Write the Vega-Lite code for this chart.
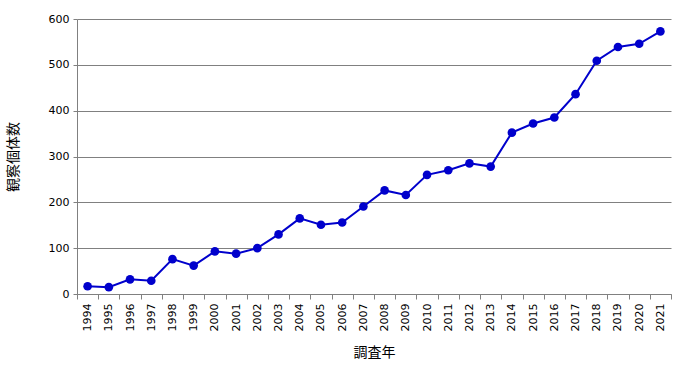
{
  "$schema": "https://vega.github.io/schema/vega-lite/v6.json",
  "autosize": "none",
  "width": 594,
  "height": 275,
  "padding": {"left": 77, "top": 19, "right": 16, "bottom": 77},
  "background": "white",
  "config": {
    "view": {"stroke": null},
    "axis": {"labelFont": "DejaVu Sans", "labelFontSize": 11, "labelColor": "#000000", "titleFont": "Noto Sans CJK JP", "titleFontSize": 14, "titleFontWeight": "normal", "titleColor": "#000000", "domainColor": "#808080", "tickColor": "#808080", "gridColor": "#808080", "gridOpacity": 1}
  },
  "data": {"values": [
    {"year": "1994", "count": 17},
    {"year": "1995", "count": 15},
    {"year": "1996", "count": 32},
    {"year": "1997", "count": 29},
    {"year": "1998", "count": 76},
    {"year": "1999", "count": 62},
    {"year": "2000", "count": 93},
    {"year": "2001", "count": 88},
    {"year": "2002", "count": 100},
    {"year": "2003", "count": 130},
    {"year": "2004", "count": 165},
    {"year": "2005", "count": 151},
    {"year": "2006", "count": 156},
    {"year": "2007", "count": 191},
    {"year": "2008", "count": 226},
    {"year": "2009", "count": 216},
    {"year": "2010", "count": 260},
    {"year": "2011", "count": 270},
    {"year": "2012", "count": 285},
    {"year": "2013", "count": 278},
    {"year": "2014", "count": 352},
    {"year": "2015", "count": 372},
    {"year": "2016", "count": 385},
    {"year": "2017", "count": 436},
    {"year": "2018", "count": 509},
    {"year": "2019", "count": 539},
    {"year": "2020", "count": 546},
    {"year": "2021", "count": 573}
  ]},
  "encoding": {
    "x": {"field": "year", "type": "ordinal", "title": "調査年",
      "scale": {"type": "band", "paddingInner": 0, "paddingOuter": 0},
      "axis": {"labelAngle": -90, "labelAlign": "right", "labelBaseline": "middle", "tickBand": "extent", "tickSize": 5, "labelPadding": 4, "titlePadding": 15, "grid": false}},
    "y": {"field": "count", "type": "quantitative", "title": "観察個体数",
      "scale": {"domain": [0, 600], "nice": false},
      "axis": {"values": [0, 100, 200, 300, 400, 500, 600], "tickSize": 4, "labelPadding": 4, "titlePadding": 28, "grid": true}}
  },
  "layer": [
    {"mark": {"type": "line", "color": "#0000CC", "strokeWidth": 2}},
    {"mark": {"type": "point", "filled": true, "color": "#0000CC", "size": 75, "opacity": 1}}
  ]
}
